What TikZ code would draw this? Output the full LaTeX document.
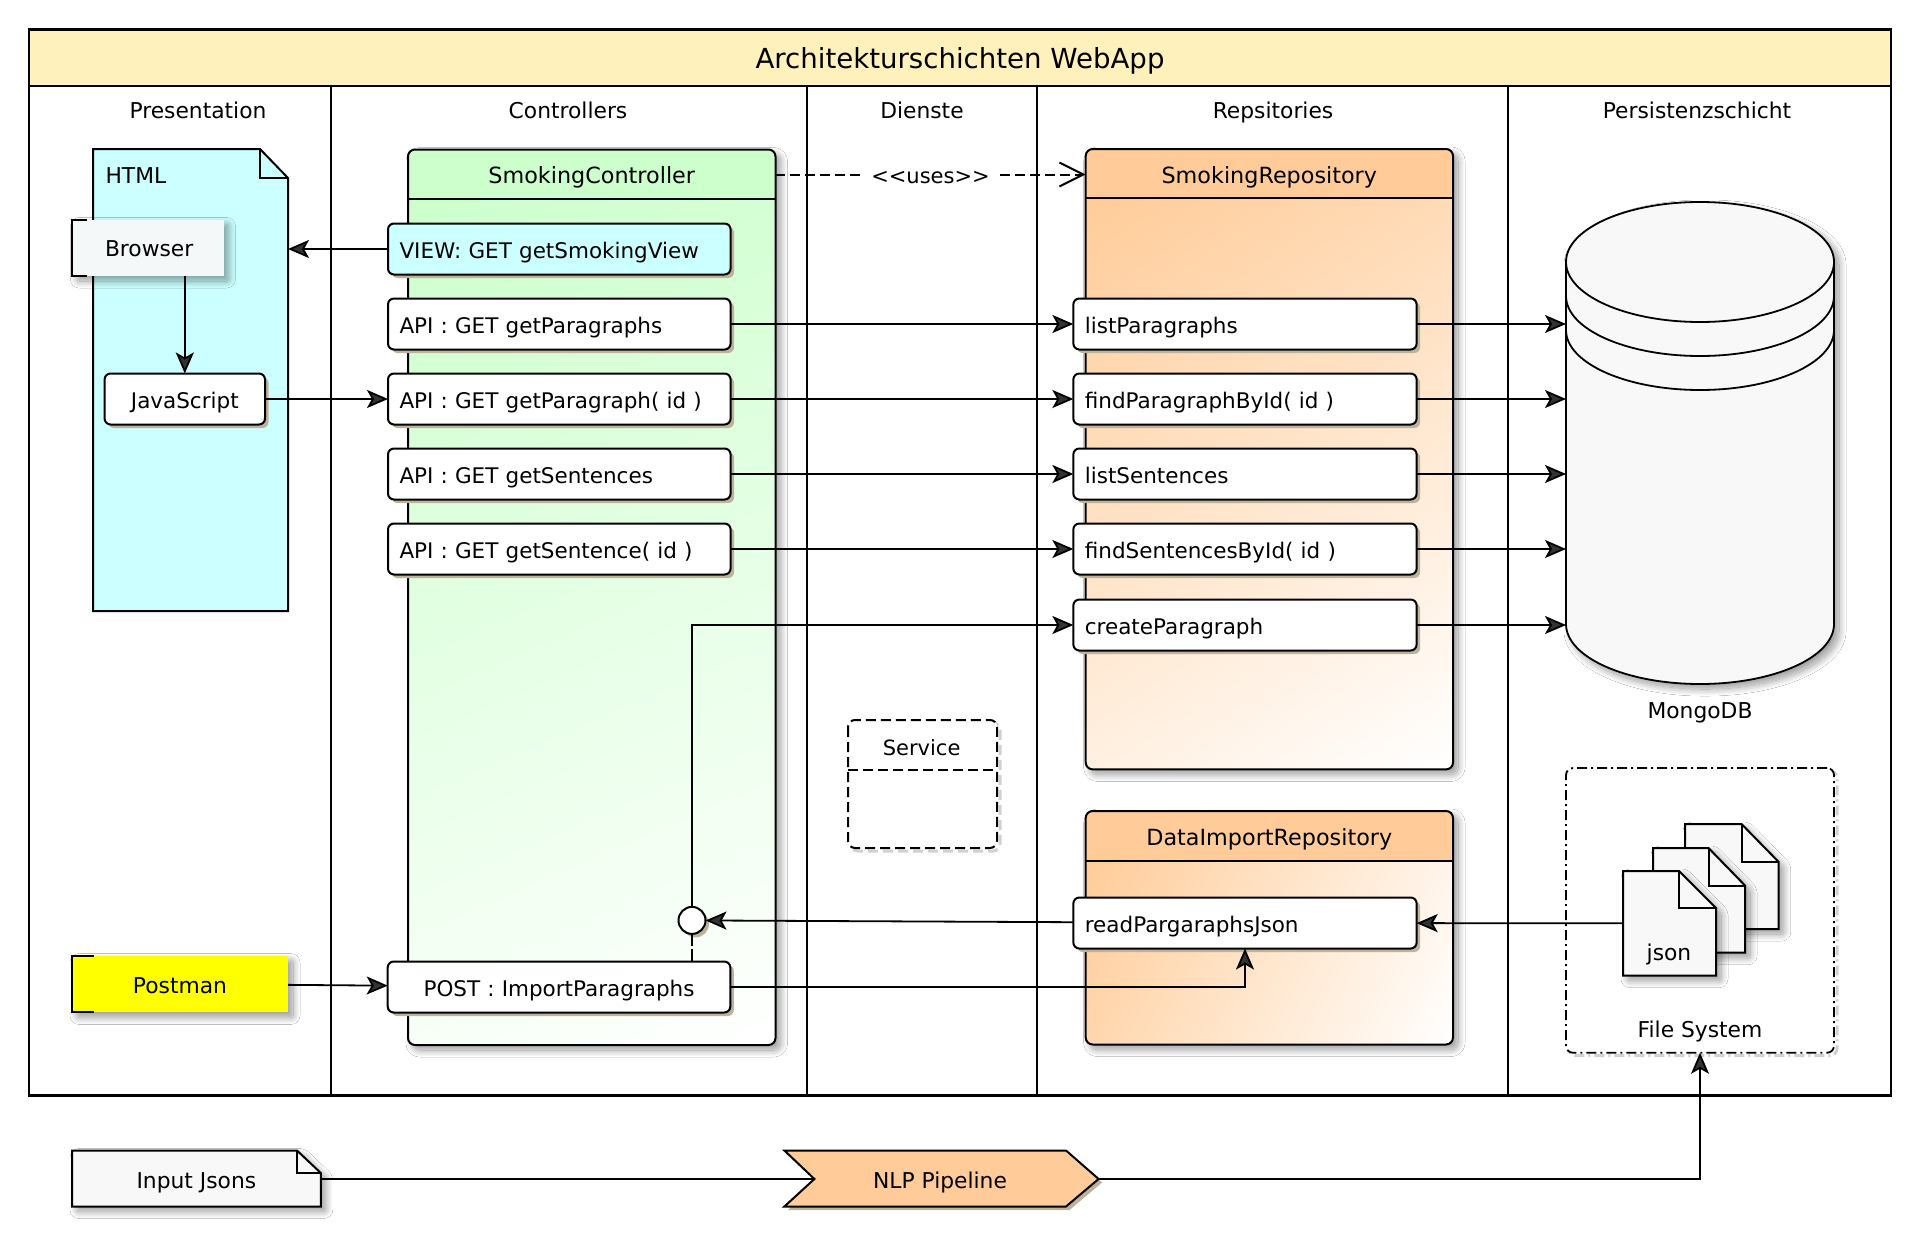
\documentclass[tikz,border=0pt]{standalone}
\usepackage{fontspec}
\setmainfont{DejaVu Sans}
\usepackage{tikz}
\usetikzlibrary{positioning,calc,arrows.meta,shadows,shadows.blur}

\definecolor{titleyellow}{HTML}{FFF1BB}
\definecolor{ctrlgreen}{HTML}{CCFFCC}
\definecolor{repoorange}{HTML}{FFCC99}
\definecolor{htmlcyan}{HTML}{CCFFFF}
\definecolor{notegray}{HTML}{F8F8F8}
\definecolor{browserfill}{HTML}{F5F8F8}
\definecolor{hardtan}{HTML}{BDB29B}
\definecolor{postyellow}{HTML}{FFFF00}

\tikzset{
  every node/.style={font=\fontsize{21.8}{26}\selectfont, inner sep=0pt, outer sep=0pt},
  softshadow/.style={blur shadow={shadow xshift=5pt, shadow yshift=-5pt, shadow blur radius=7pt, shadow blur steps=20, shadow blur extra rounding=2pt, shadow opacity=40}},
  hardshadow/.style={drop shadow={shadow xshift=3.5pt, shadow yshift=-3.5pt, fill=hardtan, opacity=1}},
  conn/.style={line width=1.8pt, -{Stealth[length=21pt,width=18pt,inset=5pt]}},
  plainline/.style={line width=1.8pt},
  usesline/.style={line width=2pt, dash pattern=on 10pt off 5pt, -{Straight Barb[length=24pt,width=24pt]}},
  boxline/.style={line width=2pt},
  textbase/.style={text height=20pt, text depth=1.5pt},
  methodbox/.style={draw, line width=2pt, fill=white, rounded corners=6pt, hardshadow, minimum height=51pt, textbase, align=left, font=\fontsize{21.5}{26}\selectfont},
  apibox/.style={methodbox, text width=319.6pt, minimum width=342.6pt, inner xsep=11.5pt},
  repobox/.style={methodbox, text width=320.3pt, minimum width=343.3pt, inner xsep=11.5pt},
  headlabel/.style={minimum height=49pt, minimum width=367.4pt, textbase, font=\fontsize{22.3}{26}\selectfont},
  columntitle/.style={textbase},
  ghostdash/.style={draw=black!18, line width=3pt},
  dashdotline/.style={line width=1.8pt, dash pattern=on 10pt off 4pt on 2pt off 4pt},
}

% body of a class box, colour running along the diagonal
\newcommand{\gradrect}[5]{%
  \pgfmathsetmacro{\gradw}{#3-#1}%
  \pgfmathsetmacro{\gradh}{#4-#2}%
  \pgfmathsetmacro{\gradlen}{veclen(\gradw,\gradh)}%
  \pgfmathsetmacro{\gradang}{-atan2(\gradh,\gradw)}%
  \pgfmathsetmacro{\gradcx}{(#1+#3)/2}%
  \pgfmathsetmacro{\gradcy}{(#2+#4)/2}%
  \begin{scope}
    \clip[rounded corners=7pt] (#1,#2-20) rectangle (#3,#4);
    \clip (#1,#2) rectangle (#3,#4);
    \shade[transform canvas={shift={(\gradcx,\gradcy)},rotate=\gradang}, left color=#5, right color=white]
      (-\gradlen/2,-\gradlen) rectangle (\gradlen/2,\gradlen);
  \end{scope}%
}

\begin{document}
\begin{tikzpicture}[x=1pt,y=-1pt]
\useasboundingbox (0,0) rectangle (1920,1239);
\fill[white] (0,0) rectangle (1920,1239);

% frame and columns
\draw[line width=2.5pt] (29,29.8) rectangle (1891,1095.5);
\draw[boxline] (330.6,86.3) -- (330.6,1095.5);
\draw[boxline] (807.4,86.3) -- (807.4,1095.5);
\draw[boxline] (1037,86.3) -- (1037,1095.5);
\draw[boxline] (1508,86.3) -- (1508,1095.5);
\node[draw, line width=2.5pt, fill=titleyellow, minimum width=1862pt, minimum height=56.5pt, text height=24pt, text depth=2pt, font=\fontsize{27.6}{32}\selectfont] (title) at (960,58) {Architekturschichten WebApp};

\node[columntitle] (presentation) at (198,109) {Presentation};
\node[columntitle] (controllers) at (568,109) {Controllers};
\node[columntitle] (dienste) at (922,109) {Dienste};
\node[columntitle] (repsitories) at (1273,109) {Repsitories};
\node[columntitle] (persistenz) at (1697,109) {Persistenzschicht};

% html page
\path[draw, boxline, fill=htmlcyan] (93,149) -- (260,149) -- (288,178) -- (288,611) -- (93,611) -- cycle;
\draw[boxline] (260,149) -- (260,178) -- (288,178);
\node[anchor=west, columntitle] (html) at (105.6,174.5) {HTML};
\coordinate (htmlPort) at (288,249);

% controller box
\path[fill=white, softshadow, rounded corners=7pt] (408,149.5) rectangle (775.5,1045);
\gradrect{408}{198.5}{775.5}{1045}{ctrlgreen}
\path[fill=ctrlgreen] (408,198.5) [rounded corners=7pt] -- (408,149.5) -- (775.5,149.5) [sharp corners] -- (775.5,198.5) -- cycle;
\draw[boxline, rounded corners=7pt] (408,149.5) rectangle (775.5,1045);
\draw[boxline] (408,198.5) -- (775.5,198.5);
\node[headlabel] (smokingController) at (591.75,174.5) {SmokingController};

% repository boxes
\path[fill=white, softshadow, rounded corners=7pt] (1085.7,149) rectangle (1453,769.4);
\gradrect{1085.7}{198.4}{1453}{769.4}{repoorange}
\path[fill=repoorange] (1085.7,198.4) [rounded corners=7pt] -- (1085.7,149) -- (1453,149) [sharp corners] -- (1453,198.4) -- cycle;
\draw[boxline, rounded corners=7pt] (1085.7,149) rectangle (1453,769.4);
\draw[boxline] (1085.7,198.4) -- (1453,198.4);
\node[headlabel] (smokingRepository) at (1269.3,174.5) {SmokingRepository};

\path[fill=white, softshadow, rounded corners=7pt] (1085.7,811) rectangle (1453,1044.5);
\gradrect{1085.7}{861}{1453}{1044.5}{repoorange}
\path[fill=repoorange] (1085.7,861) [rounded corners=7pt] -- (1085.7,811) -- (1453,811) [sharp corners] -- (1453,861) -- cycle;
\draw[boxline, rounded corners=7pt] (1085.7,811) rectangle (1453,1044.5);
\draw[boxline] (1085.7,861) -- (1453,861);
\node[headlabel] (dataImportRepository) at (1269.3,836.5) {DataImportRepository};

% service box
\draw[ghostdash, dash pattern=on 10pt off 5pt, rounded corners=7pt, shift={(3pt,-3pt)}] (848,720) rectangle (997,848);
\path[boxline, dash pattern=on 10pt off 5pt, draw, fill=white, rounded corners=7pt] (848,720) rectangle (997,848);
\draw[boxline, dash pattern=on 10pt off 5pt] (848,769.6) -- (997,769.6);
\node[columntitle, font=\fontsize{21}{26}\selectfont] (service) at (921.6,746) {Service};

% browser and postman
\path[fill=white, softshadow] (72.4,219.5) rectangle (223.5,276);
\fill[browserfill] (72.4,219.5) rectangle (223.5,276);
\draw[boxline] (87,219.5) -- (72.4,219.5) -- (72.4,276) -- (87,276);
\node[text width=84pt, minimum width=151pt, minimum height=56.5pt, textbase, align=left] (browser) at (147,247.7) {Browser};
\path[fill=postyellow, softshadow] (72,955.6) rectangle (288,1012.4);
\draw[boxline] (94,955.6) -- (72,955.6) -- (72,1012.4) -- (94,1012.4);
\node[minimum width=216pt, minimum height=56.8pt, textbase] (postman) at (180,984) {Postman};

% methods
\node[methodbox, minimum width=160.4pt, text width=137.4pt, align=center] (javaScript) at (184.8,399) {JavaScript};
\node[apibox, fill=htmlcyan] (getSmokingView) at (559.3,249) {VIEW: GET getSmokingView};
\node[apibox] (getParagraphs) at (559.3,324) {API : GET getParagraphs};
\node[apibox] (getParagraph) at (559.3,399) {API : GET getParagraph( id )};
\node[apibox] (getSentences) at (559.3,474) {API : GET getSentences};
\node[apibox] (getSentence) at (559.3,549) {API : GET getSentence( id )};
\node[apibox, align=center] (importParagraphs) at (559,987) {POST : ImportParagraphs};

\node[repobox] (listParagraphs) at (1245,324) {listParagraphs};
\node[repobox] (findParagraphById) at (1245,399) {findParagraphById( id )};
\node[repobox] (listSentences) at (1245,474) {listSentences};
\node[repobox] (findSentencesById) at (1245,549) {findSentencesById( id )};
\node[repobox] (createParagraph) at (1245,625) {createParagraph};
\node[repobox] (readPargaraphsJson) at (1245,923) {readPargaraphsJson};

% mongodb
\path[draw, line width=1.8pt, fill=notegray, softshadow] (1566,262) -- (1566,624) arc[start angle=180,end angle=360,x radius=134pt,y radius=60pt] -- (1834,262) arc[start angle=0,end angle=180,x radius=134pt,y radius=60pt] -- cycle;
\draw[line width=1.8pt] (1566,262) arc[start angle=180,end angle=360,x radius=134pt,y radius=60pt];
\draw[line width=1.8pt] (1566,296) arc[start angle=180,end angle=360,x radius=134pt,y radius=60pt];
\draw[line width=1.8pt] (1566,330) arc[start angle=180,end angle=360,x radius=134pt,y radius=60pt];
\node[minimum width=268pt, minimum height=482pt] (mongo) at (1700,443) {};
\node[columntitle] (mongoLabel) at (1700,709) {MongoDB};

% file system
\draw[ghostdash, dash pattern=on 10pt off 4pt on 2pt off 4pt, rounded corners=7pt, shift={(3pt,-3pt)}] (1566,768) rectangle (1834,1052.7);
\node[draw, dashdotline, fill=white, rounded corners=7pt, minimum width=268pt, minimum height=284.7pt] (fileSystem) at (1700,910.4) {};
\node[columntitle] (fileSystemLabel) at (1700,1028) {File System};

% json files
\path[draw, boxline, fill=notegray, softshadow] (1685,824) -- (1741.5,824) -- (1778.7,862) -- (1778.7,929) -- (1685,929) -- cycle;
\draw[boxline] (1741.5,824) -- (1741.5,862) -- (1778.7,862);
\path[draw, boxline, fill=notegray, softshadow] (1653,848) -- (1708.5,848) -- (1745,885.5) -- (1745,952.7) -- (1653,952.7) -- cycle;
\draw[boxline] (1708.5,848) -- (1708.5,885.5) -- (1745,885.5);
\path[draw, boxline, fill=notegray, softshadow] (1623,871) -- (1679,871) -- (1716,908) -- (1716,975.7) -- (1623,975.7) -- cycle;
\draw[boxline] (1679,871) -- (1679,908) -- (1716,908);
\node[minimum width=93pt, minimum height=104.7pt] (jsonFile) at (1669.5,923.3) {};
\node[columntitle] (jsonLabel) at (1669,951.6) {json};

% input and pipeline
\path[draw, boxline, fill=notegray, softshadow] (72,1150.5) -- (297,1150.5) -- (320.8,1173) -- (320.8,1206.5) -- (72,1206.5) -- cycle;
\draw[boxline] (297,1150.5) -- (297,1173) -- (320.8,1173);
\node[minimum width=248.8pt, minimum height=56pt, textbase] (inputJsons) at (196.4,1179) {Input Jsons};
\path[draw, boxline, fill=repoorange, hardshadow] (784.4,1150.5) -- (1066,1150.5) -- (1098.6,1179) -- (1066,1206.5) -- (784.4,1206.5) -- (814.4,1179) -- cycle;
\coordinate (pipeIn) at (814.4,1179);
\coordinate (pipeOut) at (1098.6,1179);
\node[columntitle] (nlpPipeline) at (940,1179) {NLP Pipeline};

% junction
\node[circle, draw, boxline, fill=white, hardshadow, minimum size=27pt] (junction) at (692,920.4) {};

% connectors
\draw[conn] (getSmokingView) -- (htmlPort);
\draw[conn] (browser.south -| javaScript) -- (javaScript);
\draw[conn] (javaScript) -- (getParagraph);
\draw[conn] (postman) -- (importParagraphs);

\draw[conn] (getParagraphs) -- (listParagraphs);
\draw[conn] (getParagraph) -- (findParagraphById);
\draw[conn] (getSentences) -- (listSentences);
\draw[conn] (getSentence) -- (findSentencesById);

\draw[conn] (listParagraphs) -- (listParagraphs -| mongo.west);
\draw[conn] (findParagraphById) -- (findParagraphById -| mongo.west);
\draw[conn] (listSentences) -- (listSentences -| mongo.west);
\draw[conn] (findSentencesById) -- (findSentencesById -| mongo.west);
\draw[conn] (createParagraph) -- (createParagraph -| mongo.west);

\draw[conn] (junction) |- (createParagraph);
\draw[plainline, dash pattern=on 12pt off 3pt] (junction.south) -- (junction |- importParagraphs.north);
\draw[conn] (readPargaraphsJson) -- (junction);
\draw[conn] (importParagraphs) -| (readPargaraphsJson);
\draw[conn] (jsonFile) -- (readPargaraphsJson);

\draw[plainline] (inputJsons) -- (pipeIn);
\draw[conn] (pipeOut) -| (fileSystem);

\draw[usesline] (smokingController) -- node[fill=white, minimum width=132pt, minimum height=26pt, textbase, font=\fontsize{21}{26}\selectfont] (usesLabel) {<{}<uses>{}>} (smokingRepository);
\end{tikzpicture}
\end{document}
